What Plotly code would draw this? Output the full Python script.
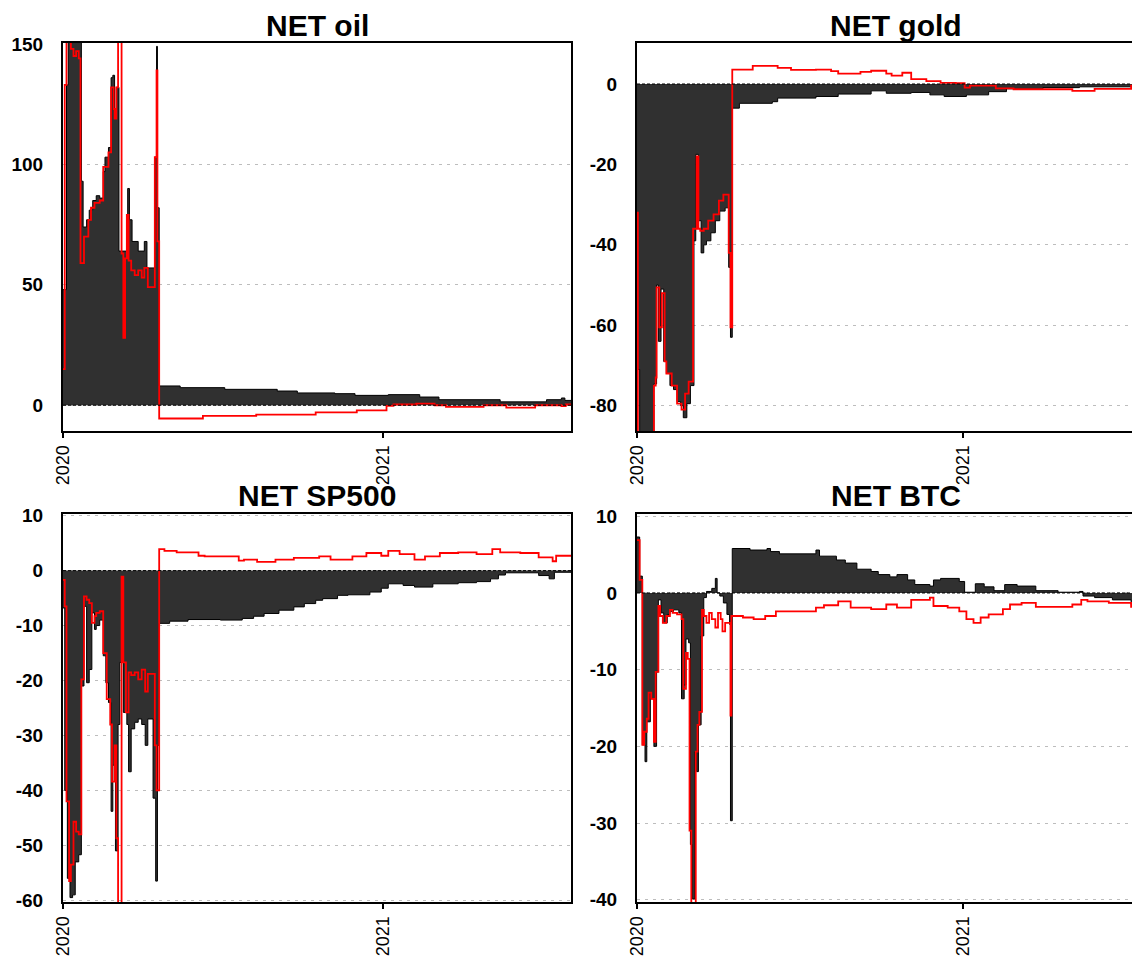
import pandas as pd
import plotly.graph_objects as go

START = pd.Timestamp("2020-01-01")

# ---------------- data (day offsets from 2020-01-01, values) ----------------
oil_area_days = [0, 4, 6, 21, 23, 27, 30, 34, 38, 42, 46, 48, 52, 55, 57, 59, 61, 64, 73, 74, 76, 79,
                 86, 93, 96, 105, 107, 108, 110, 134, 185, 245, 268, 311, 334, 372, 408, 430, 500,
                 553, 570, 574, 581]
oil_area = [48, 133, 165, 93, 74, 77, 81, 85, 87, 86, 97, 103, 107, 136, 137, 123, 132, 64, 65, 90, 77, 68,
            64, 68, 57, 103, 149, 82, 8.0, 7.3, 6.6, 5.9, 5.1, 4.8, 4.1, 4.4, 3.4, 2.3, 1.4,
            2.3, 3.0, 2.0, 2.0]
oil_line_days = [0, 2, 4, 9, 12, 15, 18, 20, 24, 29, 32, 36, 42, 46, 52, 55, 58, 59, 61, 63, 67, 69, 71, 73,
                 75, 78, 82, 86, 90, 93, 97, 105, 107, 108, 110, 160, 221, 289, 336, 370, 378, 404,
                 425, 438, 481, 507, 540, 570, 575, 581]
oil_line = [15, 133, 170, 148, 145, 147, 144, 59, 70, 77, 82, 84, 85, 99, 105, 132, 123, 119, 132, 170, 63, 28,
            61, 79, 60, 56, 54, 56, 53, 57, 49, 103, 139, 68, -5.5, -4.4, -3.9, -3.0, -2.1, -0.3, 0.3, 0.7,
            0, -0.7, 0, -1.0, 0, -0.4, 0.3, 0]

gold_area_days = [0, 3, 19, 22, 24, 27, 30, 33, 37, 41, 45, 49, 52, 56, 60, 64, 66, 69, 72, 75, 78, 83,
                  88, 93, 99, 103, 105, 107, 115, 152, 158, 201, 226, 263, 280, 308, 329, 345, 370,
                  395, 415, 456, 497, 581]
gold_area = [-71, -90, -74.6, -50, -64, -51, -69, -72, -75, -76, -79, -80, -83, -79.5, -75, -39, -17.5, -34,
             -42, -40, -39, -37, -34, -31.6, -30.8, -45.6, -63, -6, -4.8, -4.4, -3.5, -3.1, -2.5, -1.7,
             -2.3, -2.1, -2.7, -3.1, -2.7, -1.9, -1.2, -0.9, -0.7, -0.7]
gold_line_days = [0, 1, 19, 21, 22, 25, 28, 31, 33, 39, 45, 50, 54, 58, 63, 67, 69, 71, 75, 80, 86, 92, 97,
                  103, 105, 107, 130, 158, 173, 201, 218, 226, 251, 263, 280, 286, 298, 308, 325, 341,
                  358, 368, 374, 403, 423, 489, 514, 555, 581]
gold_line = [-32, -90, -75, -73, -50.6, -60.5, -52, -69, -72, -75, -79.5, -81, -77, -74, -36, -18, -36,
             -36.5, -36, -34, -32.4, -29, -27.5, -42, -60.5, 3.6, 4.5, 4.0, 3.5, 3.6, 3.2, 2.6, 3.0, 3.3,
             2.6, 2.1, 2.8, 1.2, 0.7, 0.3, 0.2, -0.9, -0.4, -1.1, -1.3, -1.7, -1.2, -0.4, -0.4]

sp_area_days = [0, 2, 5, 8, 11, 14, 18, 21, 24, 27, 30, 33, 36, 38, 42, 46, 49, 52, 55, 57, 60, 63, 65,
                69, 73, 75, 78, 82, 86, 90, 94, 97, 103, 106, 108, 110, 122, 143, 180, 205, 218, 230,
                247, 264, 276, 289, 297, 314, 326, 351, 364, 372, 389, 402, 423, 452, 473, 489, 498,
                506, 544, 556, 562, 581]
sp_area = [-6.8, -40, -56, -59.5, -59, -53, -51.7, -21, -6.5, -20.4, -18, -7.7, -10.7, -10, -9, -15.5,
           -20.4, -24, -43.8, -35.4, -51, -28, -16.7, -25.8, -28, -36.6, -28.8, -27.6, -27, -28, -31.8,
           -27, -41.4, -56.5, -31.8, -9.6, -9.2, -8.9, -9.0, -8.7, -8.3, -7.8, -7.2, -6.6, -6.0, -5.4,
           -5.1, -4.5, -4.4, -3.9, -3.2, -2.4, -2.7, -3.0, -2.4, -2.2, -2.0, -1.5, -0.8, -0.4, -0.9,
           -1.5, -0.3, -0.3]
sp_line_days = [0, 2, 4, 7, 9, 12, 15, 18, 21, 24, 27, 30, 33, 36, 38, 42, 46, 50, 54, 56, 59, 61, 63,
                67, 69, 72, 75, 78, 82, 86, 90, 94, 97, 105, 107, 110, 116, 130, 155, 162, 201, 207,
                222, 243, 264, 293, 306, 331, 347, 364, 372, 385, 402, 414, 431, 452, 473, 491, 500,
                523, 544, 560, 564, 581]
sp_line = [-1.7, -6.5, -42, -56.5, -53.5, -45.7, -47.5, -48, -19.8, -4.7, -5.3, -5.9, -9.5, -8.3, -7.7,
           -7.4, -15, -23.4, -28, -38.4, -31.8, -48.7, -70, -1.1, -16.7, -25.8, -18.5, -19, -18.5, -19.8,
           -18, -22, -18.8, -31.8, -40, 3.9, 3.6, 3.3, 2.7, 2.6, 1.8, 2.0, 1.6, 2.0, 2.3, 2.6, 2.0, 2.6,
           3.2, 2.7, 3.6, 3.0, 2.0, 2.6, 3.2, 3.3, 3.0, 3.9, 3.3, 3.2, 2.4, 1.7, 2.7, 2.7]

btc_area_days = [0, 3, 6, 9, 11, 15, 19, 22, 24, 27, 30, 34, 37, 41, 47, 50, 53, 55, 58, 60, 62, 65, 67,
                 69, 72, 75, 78, 84, 88, 90, 93, 97, 101, 104, 105, 107, 127, 146, 150, 160, 201, 205,
                 224, 234, 247, 263, 271, 284, 292, 304, 312, 329, 333, 341, 362, 368, 380, 390, 401,
                 413, 427, 448, 473, 497, 501, 514, 534, 555, 581]
btc_area = [7.3, 2.2, -19.8, -22, -16.8, -13.8, -20, -10.3, -0.9, -2.6, -3.9, -2.8, -2.4, -2.2, -2.6,
            -13.8, -12, -6, -6.5, -32.8, -39.9, -20.7, -23.3, -17.2, -5.6, -0.6, 0.2, 0.6, 1.9, 0, -0.4,
            -1.3, -2.8, -4.1, -29.7, 5.8, 5.6, 5.8, 5.4, 5.1, 5.6, 4.8, 4.3, 3.9, 3.1, 2.8, 2.4, 2.1,
            2.4, 1.7, 1.1, 0.9, 1.7, 1.9, 1.5, 0.1, 1.2, 0.8, 0.3, 1.1, 0.9, 0.3, 0.1, 0.2, -0.4, -0.6,
            -0.9, -1.5, -1.8]
btc_line_days = [0, 3, 6, 8, 11, 13, 16, 19, 21, 24, 26, 29, 33, 37, 40, 45, 50, 52, 55, 57, 59, 61, 66,
                 68, 70, 73, 75, 78, 81, 84, 88, 91, 94, 96, 99, 105, 106, 119, 131, 144, 156, 201, 210,
                 226, 240, 263, 280, 292, 308, 329, 333, 349, 362, 370, 378, 386, 395, 411, 419, 432,
                 448, 489, 499, 506, 530, 555, 581]
btc_line = [6.9, 1.7, -19.8, -18.1, -16.4, -13, -13.8, -19.4, -10.3, -1.7, -3, -3.9, -3.0, -2.2, -2.6,
            -2.8, -3.4, -12.5, -7.8, -8.6, -31, -45, -20.7, -17.2, -15.5, -2.2, -3, -3.9, -2.6, -3.4,
            -4.5, -2.6, -3.4, -5, -3.9, -16, -3.0, -3.2, -3.4, -3.0, -2.4, -1.9, -1.6, -1.1, -1.9, -2.1,
            -1.5, -1.9, -0.9, -0.6, -1.7, -1.9, -2.4, -3.4, -3.9, -3.2, -2.8, -2.1, -1.5, -1.3, -1.8,
            -1.5, -0.9, -1.1, -1.3, -1.8, -1.8]

titles = ["NET oil", "NET gold", "NET SP500", "NET BTC"]
year_ticks = ["2020-01-01", "2021-01-01"]
year_labels = ["2020", "2021"]
oil_ticks = [0, 50, 100, 150]
gold_ticks = [-80, -60, -40, -20, 0]
sp_ticks = [-60, -50, -40, -30, -20, -10, 0, 10]
btc_ticks = [-40, -30, -20, -10, 0, 10]


def to_dates(days):
    return [START + pd.Timedelta(days=d) for d in days]


# page body has an 8px margin: lay out in screen pixels, then shift
OFF = 8
SW, SH = 1140, 958
W, H = SW - OFF, SH - OFF
FONT = "Liberation Sans, Arial, sans-serif"

panels = [
    dict(title=titles[0], ad=oil_area_days, a=oil_area, ld=oil_line_days, l=oil_line,
         yr=[-10.7, 150.4], yt=oil_ticks, px=(63, 571), py=(43, 431), xend="2021-08-04", right=False),
    dict(title=titles[1], ad=gold_area_days, a=gold_area, ld=gold_line_days, l=gold_line,
         yr=[-86.3, 10.2], yt=gold_ticks, px=(637, 1140), py=(43, 431), xend="2021-07-19", right=True),
    dict(title=titles[2], ad=sp_area_days, a=sp_area, ld=sp_line_days, l=sp_line,
         yr=[-60.3, 10.3], yt=sp_ticks, px=(63, 571), py=(514, 902), xend="2021-08-04", right=False),
    dict(title=titles[3], ad=btc_area_days, a=btc_area, ld=btc_line_days, l=btc_line,
         yr=[-40.3, 10.3], yt=btc_ticks, px=(637, 1140), py=(514, 902), xend="2021-07-19", right=True),
]


def fx(sx):
    return (sx - OFF) / W


def fy(sy):
    return 1 - (sy - OFF) / H


fig = go.Figure()
annotations = []
shapes = []
for i, p in enumerate(panels):
    n = i + 1
    xa = "x" if n == 1 else f"x{n}"
    ya = "y" if n == 1 else f"y{n}"
    fig.add_trace(go.Scatter(
        x=to_dates(p["ad"]), y=p["a"], xaxis=xa, yaxis=ya, mode="lines",
        line=dict(color="#000000", width=1, shape="hv"), fill="tozeroy",
        fillcolor="#303030", showlegend=False, hoverinfo="skip"))
    fig.add_trace(go.Scatter(
        x=to_dates(p["ld"]), y=p["l"], xaxis=xa, yaxis=ya, mode="lines",
        line=dict(color="#ff0000", width=1.8, shape="hv"), showlegend=False, hoverinfo="skip"))

    xkey = "xaxis" if n == 1 else f"xaxis{n}"
    ykey = "yaxis" if n == 1 else f"yaxis{n}"
    x0, x1 = p["px"]
    y0, y1 = p["py"]
    fig.update_layout({
        xkey: dict(
            domain=[fx(x0), min(1.0, fx(x1))], anchor=ya, type="date", automargin=False,
            range=["2020-01-01", p["xend"]],
            tickvals=year_ticks, ticktext=year_labels, tickangle=-90,
            ticks="outside", ticklen=5, tickwidth=1.5, tickcolor="black",
            tickfont=dict(family=FONT, size=18, color="black"),
            showline=True, linecolor="black", linewidth=2, mirror=True,
            showgrid=False, zeroline=False),
        ykey: dict(
            domain=[fy(y1), fy(y0)], anchor=xa, range=p["yr"], automargin=False,
            tickvals=p["yt"], ticktext=[str(v) for v in p["yt"]],
            ticks="", ticklabelstandoff=14,
            tickfont=dict(family=FONT, size=19, color="black", weight="bold"),
            showline=True, linecolor="black", linewidth=2, mirror=not p["right"],
            showgrid=True, gridcolor="#bdbdbd", gridwidth=1.2, griddash="3px,5px",
            zeroline=False),
    })
    shapes.append(dict(type="line", xref=f"{xa} domain", yref=ya, x0=0, x1=1, y0=0, y1=0,
                       line=dict(color="black", width=1, dash="3px,2px"), layer="above"))
    cx = (x0 + (1154 if p["right"] else x1)) / 2
    ty = 25 if y0 < 100 else 495
    annotations.append(dict(text=f"<b>{p['title']}</b>", xref="paper", yref="paper",
                            x=fx(cx), y=fy(ty), xanchor="center", yanchor="middle",
                            showarrow=False, font=dict(family=FONT, size=30, color="black")))

fig.update_layout(
    width=W, height=H, autosize=False, template="none",
    margin=dict(l=0, r=0, t=0, b=0, autoexpand=False),
    paper_bgcolor="white", plot_bgcolor="white",
    annotations=annotations, shapes=shapes,
)

fig.write_html("out.html")
